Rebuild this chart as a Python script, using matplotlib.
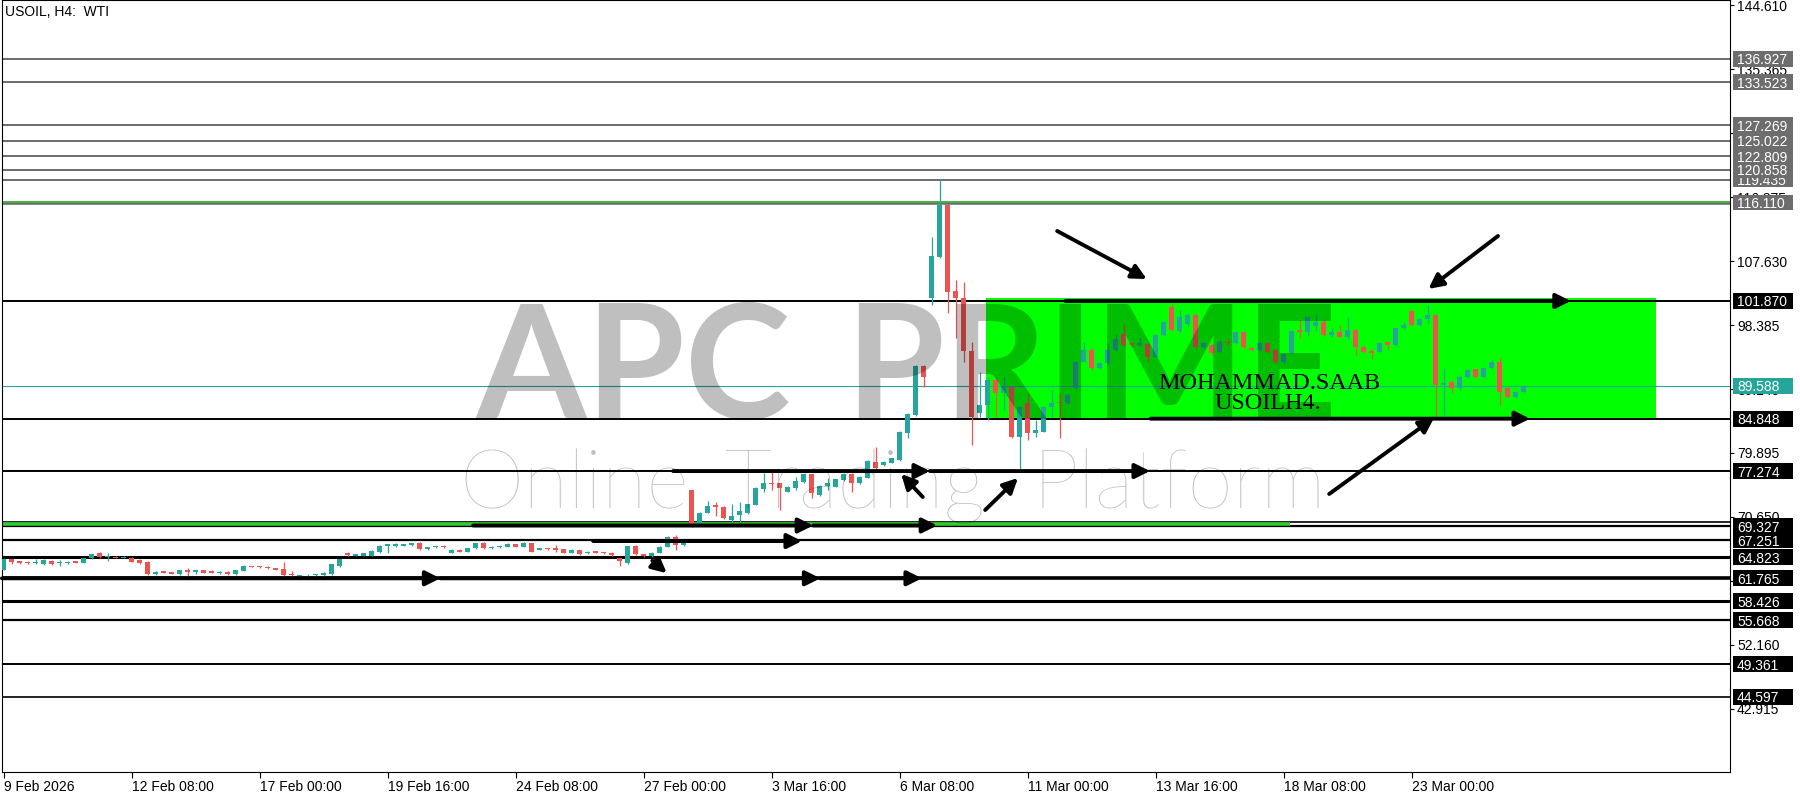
import matplotlib

matplotlib.use('Agg')
import matplotlib.pyplot as plt
from matplotlib.patches import Rectangle
from matplotlib.transforms import blended_transform_factory
import numpy as np

plt.rcParams['font.family'] = ['Liberation Sans', 'DejaVu Sans']
plt.rcParams['font.size'] = 10

# H4 candles, one entry per bar (bar 0 = 9 Feb 2026)
opens = [
    63.00, 64.50, 64.20, 64.10, 63.95, 63.83, 64.31, 63.95, 64.00, 64.22,
    64.02, 64.65, 65.37, 64.80, 64.90, 64.75, 64.65, 64.41, 64.17, 62.34,
    62.77, 62.63, 62.38, 62.96, 62.72, 62.91, 62.82, 62.58, 62.72, 62.38,
    62.82, 63.54, 63.54, 63.45, 63.25, 63.06, 62.38, 62.14, 62.19, 62.19,
    62.24, 62.34, 63.54, 65.37, 65.04, 64.99, 65.04, 65.52, 66.44, 66.48,
    66.48, 66.53, 66.82, 65.95, 66.24, 66.48, 65.47, 65.86, 65.62, 66.10,
    66.92, 66.10, 66.24, 66.34, 66.68, 66.34, 66.82, 65.86, 66.10, 66.10,
    66.00, 65.47, 65.86, 65.37, 65.66, 65.52, 65.47, 64.65, 64.03, 66.48,
    65.28, 64.99, 65.47, 66.34, 67.78, 66.58, 74.53, 69.47, 71.26, 72.36,
    72.12, 70.20, 70.92, 71.26, 72.36, 74.63, 75.59, 75.50, 74.29, 74.87,
    75.74, 76.80, 73.81, 75.11, 75.02, 75.98, 76.85, 75.50, 76.32, 78.63,
    78.15, 78.49, 78.87, 82.73, 85.38, 92.47, 102.25, 108.18, 115.75, 103.32,
    102.25, 94.69, 85.62, 86.83, 90.44, 88.52, 89.48, 82.25, 87.17, 82.83,
    82.97, 86.49, 87.26, 87.07, 89.24, 93.10, 94.78, 92.13, 92.95, 94.78,
    97.10, 95.75, 95.46, 95.65, 93.82, 96.95, 101.05, 97.58, 98.50, 99.85,
    95.26, 95.51, 94.54, 95.99, 95.75, 97.43, 95.02, 94.78, 95.75, 94.78,
    93.10, 94.30, 97.67, 97.43, 98.25, 98.88, 96.95, 97.43, 96.71, 97.67,
    95.17, 94.69, 94.54, 95.99, 95.51, 97.92, 100.47, 98.40, 99.27, 99.85,
    89.72, 90.20, 89.24, 90.93, 91.99, 90.93, 92.13, 93.10, 89.24, 88.03,
    88.76,
]
highs = [
    64.70, 64.60, 64.30, 64.20, 64.50, 64.50, 64.45, 64.35, 64.20, 64.30,
    64.70, 65.30, 65.50, 65.40, 65.00, 65.00, 64.80, 64.50, 64.25, 62.80,
    62.85, 62.70, 63.00, 63.20, 63.00, 62.95, 62.90, 62.80, 62.80, 63.00,
    63.65, 63.60, 63.60, 63.50, 63.30, 64.07, 62.87, 62.30, 62.35, 62.45,
    62.65, 63.85, 64.60, 65.60, 65.30, 65.45, 65.80, 66.55, 66.72, 66.80,
    66.75, 66.90, 66.95, 66.30, 66.50, 66.55, 65.95, 65.95, 66.15, 66.90,
    67.00, 66.40, 66.50, 66.80, 66.75, 67.00, 66.90, 66.15, 66.15, 66.60,
    66.05, 65.95, 65.90, 65.70, 65.70, 65.55, 65.50, 64.70, 66.50, 66.55,
    65.35, 65.55, 66.40, 67.85, 68.00, 67.00, 74.60, 71.30, 72.99, 72.75,
    72.20, 72.51, 72.85, 72.55, 74.95, 76.94, 77.09, 75.60, 75.10, 76.46,
    76.90, 76.90, 75.20, 76.22, 76.15, 76.95, 76.95, 76.55, 78.85, 80.80,
    78.70, 79.20, 83.05, 85.60, 92.55, 92.55, 111.08, 119.47, 115.85, 104.91,
    104.67, 95.99, 91.65, 90.69, 90.93, 90.93, 89.60, 86.70, 88.52, 84.66,
    86.70, 89.00, 88.52, 88.40, 93.20, 96.00, 95.00, 93.00, 96.00, 97.10,
    98.50, 95.90, 96.47, 95.80, 97.10, 99.00, 101.50, 100.50, 100.20, 100.00,
    96.00, 95.70, 96.20, 96.40, 97.60, 97.60, 95.20, 96.00, 95.90, 94.90,
    94.40, 97.70, 99.12, 99.60, 100.00, 99.30, 98.00, 98.40, 99.50, 97.80,
    95.30, 94.90, 96.00, 96.10, 98.00, 98.80, 100.60, 99.40, 101.29, 100.00,
    92.13, 90.50, 91.20, 92.00, 92.10, 92.30, 93.30, 93.58, 89.40, 88.90,
    89.70,
]
lows = [
    62.90, 63.90, 63.90, 63.85, 63.83, 63.75, 63.70, 63.60, 63.90, 63.95,
    63.95, 64.60, 64.70, 64.20, 64.65, 64.70, 64.10, 63.85, 62.30, 62.20,
    62.50, 62.35, 62.30, 62.10, 62.40, 62.50, 62.50, 62.45, 62.30, 62.30,
    62.75, 63.35, 63.30, 63.15, 62.90, 62.00, 62.00, 62.08, 62.10, 62.10,
    62.15, 62.30, 63.45, 65.00, 65.00, 64.95, 65.00, 65.45, 65.37, 66.30,
    66.40, 66.45, 65.90, 65.90, 66.20, 66.20, 65.40, 65.50, 65.50, 66.05,
    66.00, 66.00, 66.15, 66.30, 66.30, 66.30, 65.50, 65.80, 65.90, 65.60,
    65.40, 65.40, 65.15, 65.30, 65.40, 65.30, 65.00, 63.54, 63.90, 65.20,
    64.90, 64.90, 65.40, 66.30, 65.86, 66.50, 69.20, 69.40, 71.16, 70.82,
    70.30, 69.95, 69.95, 71.10, 72.30, 74.29, 74.53, 71.64, 74.20, 74.53,
    75.60, 73.33, 73.70, 74.53, 74.90, 75.90, 74.29, 75.40, 76.20, 77.60,
    78.00, 78.40, 78.80, 82.00, 85.30, 89.48, 101.29, 108.04, 100.09, 96.47,
    93.10, 81.04, 85.14, 84.66, 85.14, 86.10, 82.00, 77.30, 81.77, 82.25,
    82.90, 85.14, 82.00, 87.00, 89.10, 93.00, 91.90, 92.00, 92.80, 94.60,
    95.40, 95.30, 95.30, 93.00, 93.70, 96.80, 97.50, 97.40, 98.30, 95.00,
    95.00, 94.00, 94.40, 95.50, 95.60, 95.10, 94.60, 94.60, 94.40, 92.90,
    92.80, 94.20, 96.47, 96.80, 97.50, 96.80, 96.70, 96.50, 96.40, 94.00,
    94.40, 93.50, 94.40, 94.90, 95.30, 97.80, 98.20, 98.20, 98.64, 85.14,
    85.38, 88.50, 89.00, 90.80, 90.70, 90.80, 92.00, 86.83, 87.90, 87.90,
    88.60,
]
closes = [
    64.50, 64.07, 64.00, 63.95, 64.15, 64.41, 63.83, 64.12, 64.12, 64.02,
    64.65, 65.23, 64.80, 64.99, 64.75, 64.90, 64.17, 63.93, 62.34, 62.72,
    62.58, 62.38, 62.96, 62.72, 62.96, 62.58, 62.58, 62.72, 62.38, 62.96,
    63.59, 63.40, 63.35, 63.20, 62.96, 62.19, 62.19, 62.24, 62.29, 62.38,
    62.58, 63.78, 64.51, 65.13, 65.23, 65.37, 65.76, 66.48, 66.68, 66.72,
    66.68, 66.82, 65.95, 66.24, 66.44, 66.24, 65.86, 65.57, 66.10, 66.82,
    66.10, 66.34, 66.43, 66.72, 66.34, 66.92, 65.62, 66.10, 65.95, 65.86,
    65.47, 65.86, 65.23, 65.62, 65.47, 65.37, 65.08, 64.31, 66.43, 65.28,
    64.99, 65.47, 66.34, 67.78, 66.58, 66.92, 69.33, 71.26, 72.22, 72.03,
    70.44, 70.77, 71.55, 72.46, 74.87, 75.59, 75.40, 74.78, 75.02, 75.83,
    76.80, 74.05, 75.11, 75.50, 76.08, 76.85, 75.59, 76.46, 78.78, 77.67,
    78.63, 79.11, 82.97, 85.53, 92.47, 90.93, 108.38, 115.75, 103.22, 102.25,
    94.69, 85.14, 86.83, 90.44, 88.52, 89.48, 82.25, 86.59, 82.73, 83.21,
    86.59, 87.17, 87.07, 88.27, 93.10, 94.78, 92.13, 92.85, 94.78, 96.33,
    95.51, 95.51, 95.84, 93.82, 96.95, 98.88, 97.67, 99.60, 99.85, 95.26,
    95.75, 94.30, 95.99, 95.75, 97.43, 95.26, 94.78, 95.84, 94.54, 93.10,
    94.20, 97.58, 97.43, 99.51, 98.88, 96.95, 97.43, 96.71, 97.67, 95.26,
    94.54, 94.40, 95.84, 95.51, 97.92, 98.40, 98.40, 99.27, 99.85, 89.72,
    89.96, 89.24, 90.93, 91.89, 90.93, 92.13, 93.10, 88.76, 88.03, 88.76,
    89.58,
]

date_labels = ['9 Feb 2026', '12 Feb 08:00', '17 Feb 00:00', '19 Feb 16:00',
               '24 Feb 08:00', '27 Feb 00:00', '3 Mar 16:00', '6 Mar 08:00',
               '11 Mar 00:00', '13 Mar 16:00', '18 Mar 08:00', '23 Mar 00:00']
date_bars = [0, 16, 32, 48, 64, 80, 96, 112, 128, 144, 160, 176]

price_ticks = [144.610, 135.365, 126.120, 116.875, 107.630, 98.385, 89.140,
               79.895, 70.650, 61.405, 52.160, 42.915]

gray_levels = [136.927, 133.523, 127.269, 125.022, 122.809, 120.858, 119.435, 116.110]
black_levels = [101.870, 84.848, 77.274, 69.327, 67.251, 64.823, 61.765,
                58.426, 55.668, 49.361, 44.597]
black_widths = [1.4, 1.4, 1.4, 1.6, 1.6, 2.2, 2.6, 2.2, 1.6, 1.4, 1.2]
last_price = 89.588

# hand drawn arrows: (x0, y0, x1, y1) in bars / price
arrows = [
    (-0.2, 61.765, 54.6, 61.765), (54.6, 61.765, 102.1, 61.765), (102.1, 61.765, 114.8, 61.765),
    (58.7, 69.40, 101.2, 69.40), (101.2, 69.40, 116.7, 69.40),
    (73.7, 67.15, 99.8, 67.15),
    (83.7, 77.274, 115.8, 77.274), (115.8, 77.274, 143.3, 77.274),
    (132.7, 101.87, 195.9, 101.87),
    (143.4, 84.848, 190.8, 84.848),
    (131.7, 111.99, 142.9, 105.05),
    (186.8, 111.27, 178.1, 103.61),
    (165.7, 73.96, 178.8, 84.95),
    (114.9, 73.52, 112.2, 76.85),
    (122.7, 71.64, 126.8, 76.27),
    (81.1, 64.30, 82.9, 62.50),
]

TEAL = '#26a69a'
RED = '#ef5350'

fig = plt.figure(figsize=(18, 8), dpi=100)
ax = fig.add_axes([2 / 1800, 28 / 800, 1728 / 1800, 772 / 800])

# zone rectangle
ax.add_patch(Rectangle((122.8, 84.85), 206.6 - 122.8, 102.25 - 84.85,
                       facecolor='#00ff00', edgecolor='none', zorder=1))

for lv in gray_levels:
    ax.axhline(lv, color='#6d6d6d', lw=1.4, zorder=2)
ax.axhline(116.110, color='#6d6d6d', lw=2.6, zorder=2)
ax.axhline(116.16, color='#33c433', lw=1.1, zorder=2)

for lv, w in zip(black_levels, black_widths):
    ax.axhline(lv, color='black', lw=w, zorder=2)
ax.axhline(69.95, color='black', lw=1.2, zorder=2)
ax.plot([-0.2, 160.8], [69.65, 69.65], color='#2ecc2e', lw=2.6, zorder=2,
        solid_capstyle='butt')
ax.axhline(last_price, color=TEAL, lw=0.8, zorder=2)

# candles
o = np.array(opens)
h = np.array(highs)
l = np.array(lows)
c = np.array(closes)
x = np.arange(len(o))
up = c >= o
cols = np.where(up, TEAL, RED)
ax.vlines(x, l, h, colors=cols, lw=0.9, zorder=3)
body_lo = np.minimum(o, c)
body_h = np.maximum(np.abs(c - o), 0.12)
ax.bar(x, body_h, bottom=body_lo, width=0.62, color=cols, linewidth=0, zorder=3)

for x0, y0, x1, y1 in arrows:
    ax.annotate('', xy=(x1, y1), xytext=(x0, y0),
                arrowprops=dict(arrowstyle='-|>', color='black', lw=2.8,
                                mutation_scale=22, shrinkA=0, shrinkB=0),
                zorder=4)

# watermark (black with low alpha darkens like the original overlay)
wm = dict(family=['Lato', 'DejaVu Sans'], color='black', alpha=0.25, zorder=5,
          va='baseline')
ax.text(59.1, 84.80, 'APC', ha='left', fontsize=115, fontweight='bold', **wm)
ax.text(166.7, 84.80, 'PRIME', ha='right', fontsize=115, fontweight='bold', **wm)
ax.text(71.4, 71.79, 'Online', ha='center', fontsize=59, fontweight='light', **wm)
ax.text(106.4, 71.79, 'Trading', ha='center', fontsize=59, fontweight='light', **wm)
ax.text(147.0, 71.79, 'Platform', ha='center', fontsize=59, fontweight='light', **wm)

ax.text(158.25, 89.14, 'MOHAMMAD.SAAB', ha='center', va='baseline', fontsize=17.4,
        family=['Liberation Serif', 'DejaVu Serif'], color='black', zorder=6)
ax.text(158.1, 86.25, 'USOILH4.', ha='center', va='baseline', fontsize=17.4,
        family=['Liberation Serif', 'DejaVu Serif'], color='black', zorder=6)

fig.text(5 / 1800, 1 - 12 / 800, 'USOIL, H4:  WTI', ha='left', va='center', fontsize=10)

# axes cosmetics
ax.yaxis.tick_right()
ax.set_yticks(price_ticks)
ax.set_yticklabels(['{:.3f}'.format(t) for t in price_ticks])
ax.set_xticks(date_bars)
ax.set_xticklabels(date_labels)
for lab in ax.get_xticklabels():
    lab.set_ha('left')
ax.tick_params(axis='y', length=3, width=0.8, pad=2)
ax.tick_params(axis='x', length=4, width=0.8, pad=2)
for s in ax.spines.values():
    s.set_linewidth(0.8)

# price labels on the right scale
trans = blended_transform_factory(fig.transFigure, ax.transData)
box_h = 2.3
order = [(119.435, '#6d6d6d'), (122.809, '#6d6d6d'), (120.858, '#6d6d6d'),
         (127.269, '#6d6d6d'), (125.022, '#6d6d6d'), (136.927, '#6d6d6d'),
         (133.523, '#6d6d6d'), (116.110, '#6d6d6d'), (101.870, 'black'),
         (last_price, TEAL), (84.848, 'black'), (77.274, 'black'),
         (69.327, 'black'), (67.251, 'black'), (64.823, 'black'),
         (61.765, 'black'), (58.426, 'black'), (55.668, 'black'),
         (49.361, 'black'), (44.597, 'black')]
z = 10
for val, col in order:
    ax.add_patch(Rectangle((1733 / 1800, val - box_h / 2), 60 / 1800, box_h,
                           transform=trans, facecolor=col, edgecolor='none',
                           clip_on=False, zorder=z))
    ax.text(1737 / 1800, val, '{:.3f}'.format(val), transform=trans, color='white',
            ha='left', va='center_baseline', fontsize=10, clip_on=False, zorder=z + 1)
    z += 2

ax.set_xlim(-0.19, 215.8)
ax.set_ylim(33.75, 145.40)

plt.savefig('out.png', dpi=100)
plt.close()
